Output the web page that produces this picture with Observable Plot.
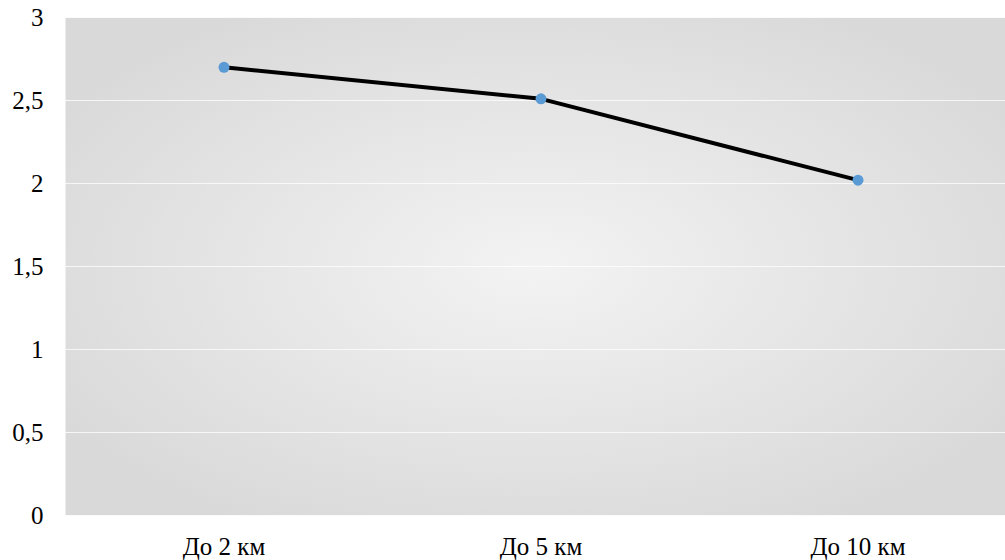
<!DOCTYPE html>
<html>
<head>
<meta charset="utf-8">
<script src="https://cdn.jsdelivr.net/npm/d3@7"></script>
<script src="https://cdn.jsdelivr.net/npm/@observablehq/plot@0.6"></script>
<style>
  html, body { margin: 0; padding: 0; background: #fff; }
  #chart svg { display: block; }
</style>
</head>
<body>
<div id="chart"></div>
<script>
const categories = ["До 2 км", "До 5 км", "До 10 км"];
const values = [2.7, 2.51, 2.02];
const yTicks = [0, 0.5, 1, 1.5, 2, 2.5, 3];
const yTickLabels = ["0", "0,5", "1", "1,5", "2", "2,5", "3"];

const data = categories.map((c, i) => ({category: c, value: values[i]}));

const chart = Plot.plot({
  width: 1005,
  height: 560,
  marginLeft: 65,
  marginRight: 0,
  marginTop: 17,
  marginBottom: 45,
  style: {fontFamily: "'Liberation Serif', 'Times New Roman', serif", fontSize: "25px", color: "#000", background: "#fff"},
  x: {type: "band", domain: categories, range: [65, 1016], padding: 0, label: null},
  y: {domain: [0, 3], label: null},
  marks: [
    Plot.frame({fill: "url(#bgGrad)", stroke: null}),
    Plot.gridY(yTicks, {stroke: "#ffffff", strokeOpacity: 0.75, strokeWidth: 1}),
    Plot.axisY(yTicks, {tickSize: 0, tickPadding: 22, tickFormat: (d) => yTickLabels[yTicks.indexOf(d)], fontSize: 25, label: null}),
    Plot.axisX({tickSize: 0, tickPadding: 22, fontSize: 25, label: null}),
    Plot.line(data, {x: "category", y: "value", stroke: "#000", strokeWidth: 4, strokeLinejoin: "round"}),
    Plot.dot(data, {x: "category", y: "value", fill: "#5b9bd5", r: 5.5, stroke: null})
  ]
});

const defs = document.createElementNS("http://www.w3.org/2000/svg", "defs");
defs.innerHTML = `<radialGradient id="bgGrad" cx="50%" cy="50%" r="60%">
  <stop offset="0%" stop-color="#f3f3f3"/>
  <stop offset="100%" stop-color="#d9d9d9"/>
</radialGradient>`;
chart.insertBefore(defs, chart.firstChild);

document.getElementById("chart").appendChild(chart);
</script>
</body>
</html>
